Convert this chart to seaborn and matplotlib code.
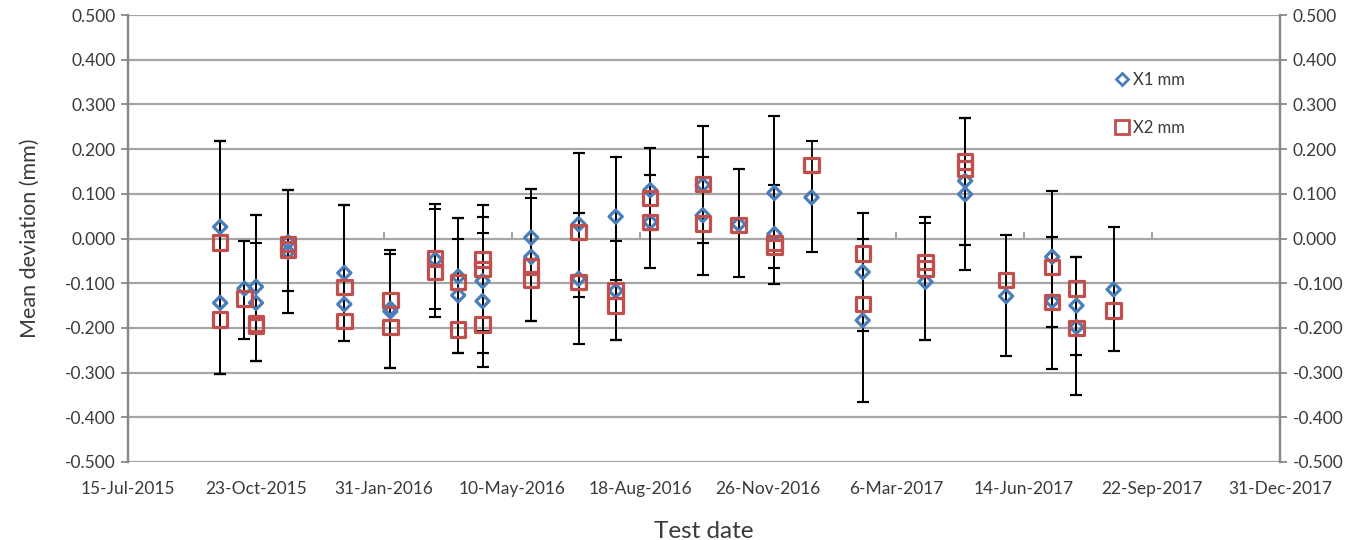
import matplotlib
matplotlib.use("Agg")
import matplotlib.pyplot as plt
import matplotlib.dates as mdates
from matplotlib.lines import Line2D
import numpy as np
import pandas as pd
import seaborn as sns

# ---------------- data ----------------
x1_dates = ["2015-09-25", "2015-09-25", "2015-10-14", "2015-10-23", "2015-10-23",
            "2015-11-17", "2015-11-17", "2015-12-31", "2015-12-31", "2016-02-05",
            "2016-02-05", "2016-03-11", "2016-03-29", "2016-03-29", "2016-04-17",
            "2016-04-17", "2016-05-25", "2016-05-25", "2016-07-01", "2016-07-01",
            "2016-07-30", "2016-07-30", "2016-08-26", "2016-08-26", "2016-10-06",
            "2016-10-06", "2016-11-03", "2016-12-01", "2016-12-01", "2016-12-30",
            "2017-02-08", "2017-02-08", "2017-03-29", "2017-04-29", "2017-04-29",
            "2017-05-31", "2017-07-06", "2017-07-06", "2017-07-25", "2017-07-25",
            "2017-08-23"]
x1_vals = [0.026, -0.144, -0.112, -0.108, -0.144,
           -0.008, -0.030, -0.077, -0.147, -0.157,
           -0.163, -0.047, -0.085, -0.127, -0.095,
           -0.140, 0.002, -0.041, 0.032, -0.090,
           0.049, -0.117, 0.108, 0.037, 0.120,
           0.052, 0.032, 0.102, 0.010, 0.092,
           -0.075, -0.183, -0.097, 0.129, 0.099,
           -0.129, -0.041, -0.140, -0.150, -0.198,
           -0.114]
x1_low = [-0.304, -0.304, -0.224, -0.274, -0.274,
          -0.166, -0.117, -0.127, -0.229, -0.289,
          -0.289, -0.175, -0.257, -0.257, -0.257,
          -0.287, -0.185, -0.185, -0.237, -0.131,
          -0.227, -0.227, -0.067, 0.019, -0.082,
          -0.011, -0.086, -0.101, -0.067, -0.031,
          -0.366, -0.207, -0.228, -0.070, -0.015,
          -0.262, -0.292, -0.198, -0.349, -0.260,
          -0.252]
x1_high = [0.219, 0.219, -0.005, 0.052, -0.011,
           0.108, 0.108, 0.075, 0.075, -0.025,
           -0.034, 0.078, 0.045, 0.000, 0.013,
           0.049, 0.110, 0.091, 0.191, 0.058,
           0.183, -0.005, 0.202, 0.142, 0.251,
           0.183, 0.155, 0.274, 0.120, 0.146,
           0.058, 0.000, 0.047, 0.269, 0.269,
           0.007, 0.107, 0.004, -0.041, -0.041,
           0.026]

x2_dates = ["2015-09-25", "2015-09-25", "2015-10-14", "2015-10-23", "2015-10-23",
            "2015-11-17", "2015-11-17", "2015-12-31", "2015-12-31", "2016-02-05",
            "2016-02-05", "2016-03-11", "2016-03-11", "2016-03-29", "2016-03-29",
            "2016-04-17", "2016-04-17", "2016-04-17", "2016-05-25", "2016-05-25",
            "2016-07-01", "2016-07-01", "2016-07-30", "2016-07-30", "2016-08-26",
            "2016-08-26", "2016-10-06", "2016-10-06", "2016-11-03", "2016-12-01",
            "2016-12-01", "2016-12-30", "2017-02-08", "2017-02-08", "2017-03-29",
            "2017-03-29", "2017-04-29", "2017-04-29", "2017-05-31", "2017-07-06",
            "2017-07-06", "2017-07-25", "2017-07-25", "2017-08-23"]
x2_vals = [-0.009, -0.181, -0.134, -0.190, -0.196,
           -0.012, -0.025, -0.108, -0.184, -0.137,
           -0.198, -0.045, -0.075, -0.097, -0.204,
           -0.047, -0.068, -0.192, -0.063, -0.092,
           0.015, -0.097, -0.116, -0.150, 0.090,
           0.037, 0.122, 0.034, 0.030, -0.010,
           -0.019, 0.165, -0.034, -0.146, -0.052,
           -0.067, 0.172, 0.157, -0.093, -0.064,
           -0.142, -0.112, -0.200, -0.161]
x2_low = [-0.304, -0.304, -0.224, -0.274, -0.274,
          -0.166, -0.117, -0.229, -0.229, -0.289,
          -0.289, -0.157, -0.175, -0.257, -0.257,
          -0.207, -0.257, -0.287, -0.185, -0.185,
          -0.237, -0.131, -0.227, -0.227, -0.067,
          0.019, -0.082, -0.011, -0.086, -0.101,
          -0.067, -0.031, -0.366, -0.207, -0.228,
          -0.228, -0.070, -0.015, -0.262, -0.292,
          -0.198, -0.349, -0.260, -0.252]
x2_high = [0.219, 0.219, -0.005, 0.052, 0.052,
           0.108, 0.108, 0.075, 0.075, -0.034,
           -0.025, 0.067, 0.078, 0.045, 0.045,
           0.075, 0.049, 0.075, 0.110, 0.110,
           0.191, 0.058, -0.092, 0.183, 0.202,
           0.142, 0.251, 0.183, 0.155, 0.274,
           0.120, 0.219, 0.058, 0.000, 0.047,
           0.034, 0.269, 0.269, 0.007, 0.107,
           0.004, -0.041, -0.041, 0.026]

tick_dates = ["2015-07-15", "2015-10-23", "2016-01-31", "2016-05-10", "2016-08-18",
              "2016-11-26", "2017-03-06", "2017-06-14", "2017-09-22", "2017-12-31"]
y_ticks = [-0.5, -0.4, -0.3, -0.2, -0.1, 0.0, 0.1, 0.2, 0.3, 0.4, 0.5]
series_names = ["X1 mm", "X2 mm"]

# ---------------- style ----------------
sns.set_theme(style="white")
plt.rcParams["font.family"] = ["Lato", "DejaVu Sans"]

BLUE = "#4a7ebb"
RED = "#c0504d"
GRID = "#a6a6a6"
TXT = "#3a3a3a"

df1 = pd.DataFrame({"date": pd.to_datetime(x1_dates), "val": x1_vals,
                    "lo": x1_low, "hi": x1_high})
df2 = pd.DataFrame({"date": pd.to_datetime(x2_dates), "val": x2_vals,
                    "lo": x2_low, "hi": x2_high})

fig = plt.figure(figsize=(13.64, 5.40), dpi=100)
ax = fig.add_axes([128 / 1364, 1 - 462 / 540, (1280 - 128) / 1364, (462 - 15) / 540])

ax.set_ylim(-0.5, 0.5)
ax.set_xlim(pd.Timestamp(tick_dates[0]), pd.Timestamp(tick_dates[-1]))
ax.set_yticks(y_ticks)
ax.yaxis.grid(True, color=GRID, linewidth=1.6, zorder=0)
ax.xaxis.grid(False)

for df in (df1, df2):
    ax.errorbar(df["date"], df["val"],
                yerr=[df["val"] - df["lo"], df["hi"] - df["val"]],
                fmt="none", ecolor="black", elinewidth=1.3, capsize=4,
                capthick=1.5, zorder=3)

sns.scatterplot(data=df1, x="date", y="val", ax=ax, marker="D", s=45,
                facecolor="none", edgecolor=BLUE, linewidth=2.3, zorder=4)
sns.scatterplot(data=df2, x="date", y="val", ax=ax, marker="s", s=108,
                facecolor="none", edgecolor=RED, linewidth=2.3, zorder=4)

# x ticks / labels
ax.set_xticks(pd.to_datetime(tick_dates))
ax.xaxis.set_major_formatter(mdates.DateFormatter("%-d-%b-%Y"))
ax.tick_params(axis="x", length=0, pad=14, labelsize=12.5, labelcolor=TXT)
ax.tick_params(axis="y", left=True, length=5, width=1.3, color="#888888",
               pad=4, labelsize=12.5, labelcolor=TXT)
ax.yaxis.set_major_formatter(plt.FuncFormatter(lambda v, p: f"{v:.3f}"))

# horizontal axis crosses at 0: small tick marks there
sec = ax.secondary_xaxis(0.5)
sec.set_xticks(pd.to_datetime(tick_dates))
sec.tick_params(axis="x", length=4, width=1.3, color="#999999", direction="out")
sec.xaxis.set_ticklabels([])
for s in sec.spines.values():
    s.set_visible(False)

# right axis mirror
axr = ax.twinx()
axr.set_ylim(ax.get_ylim())
axr.set_yticks(y_ticks)
axr.yaxis.set_major_formatter(plt.FuncFormatter(lambda v, p: f"{v:.3f}"))
axr.tick_params(axis="y", right=True, length=5, width=1.3, color="#888888",
                pad=4, labelsize=12.5, labelcolor=TXT)
axr.grid(False)

for a in (ax, axr):
    for side in ("top", "bottom"):
        a.spines[side].set_visible(False)
    a.spines["left"].set_color("#888888")
    a.spines["right"].set_color("#888888")
    a.spines["left"].set_linewidth(1.6)
    a.spines["right"].set_linewidth(1.6)

ax.set_xlabel("Test date", fontsize=17.5, color=TXT, labelpad=17)
ax.set_ylabel("Mean deviation (mm)", fontsize=15.5, color=TXT, labelpad=18)

handles = [
    Line2D([], [], linestyle="none", marker="D", markersize=6.5, markerfacecolor="none",
           markeredgecolor=BLUE, markeredgewidth=2.0),
    Line2D([], [], linestyle="none", marker="s", markersize=9.5, markerfacecolor="none",
           markeredgecolor=RED, markeredgewidth=2.0),
]
leg = axr.legend(handles, series_names, loc="upper left",
                 bbox_to_anchor=(1100 / 1364, 1 - 57 / 540), bbox_transform=fig.transFigure,
                 frameon=False, labelspacing=1.9, handlelength=0.8, handletextpad=0.3,
                 fontsize=12)
for t in leg.get_texts():
    t.set_color(TXT)

fig.savefig("out.png", dpi=100)
